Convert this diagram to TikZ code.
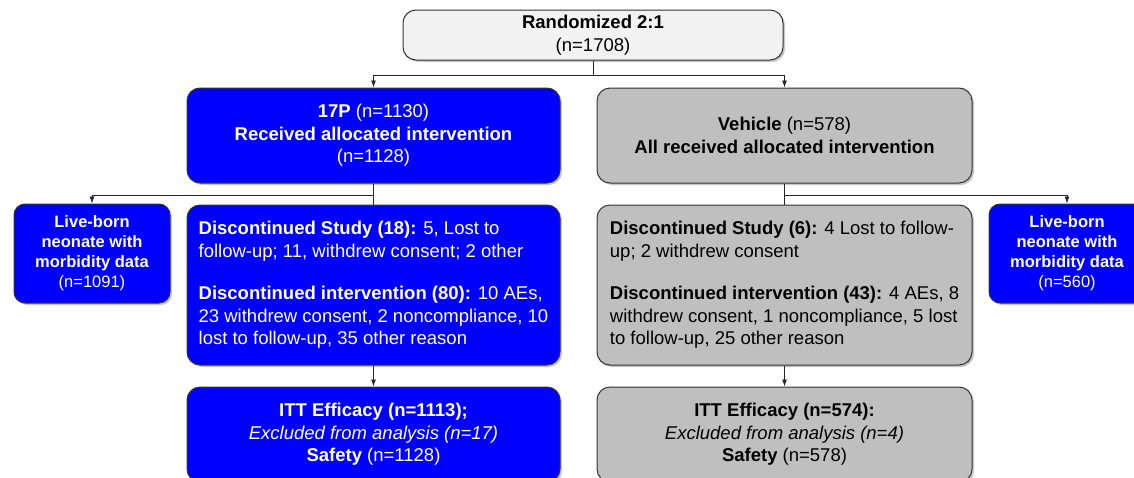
\documentclass[tikz,border=0pt]{standalone}
\usepackage{fontspec}
\setmainfont{Liberation Sans}
\usetikzlibrary{arrows.meta,shadows}

\begin{document}
\begin{tikzpicture}[x=1pt,y=-1pt,
    box/.style={draw=black!80, line width=1pt, rounded corners=13pt, inner sep=0pt,
        drop shadow={shadow xshift=2pt, shadow yshift=-2pt, opacity=0.45},
        align=center, font=\fontsize{18.5}{22.5}\selectfont},
    bluebox/.style={box, fill=blue, text=white},
    graybox/.style={box, fill=black!25},
    sidebox/.style={bluebox, rounded corners=11pt, minimum width=156pt, minimum height=99pt,
        font=\fontsize{16.5}{20}\selectfont\bfseries},
    arr/.style={-{Latex[length=7pt,width=5pt]}, line width=0.8pt, draw=black!85},
    ln/.style={line width=0.8pt, draw=black!85}]

    \useasboundingbox (0,0) rectangle (1134,477);
    \clip (0,0) rectangle (1134,477);

    % top row
    \node[box, fill=black!5, minimum width=380pt, minimum height=50pt] (rand) at (593,35)
        {\textbf{Randomized 2:1}\\(n=1708)};

    \node[bluebox, minimum width=373pt, minimum height=95pt] (p17) at (373.5,135.5)
        {\textbf{17P} (n=1130)\\\textbf{Received allocated intervention}\\(n=1128)};
    \node[graybox, minimum width=375pt, minimum height=95pt] (veh) at (784.5,135.5)
        {\textbf{Vehicle} (n=578)\\\textbf{All received allocated intervention}};

    % middle row
    \node[sidebox] (liveL) at (92,253.5) {Live-born\\neonate with\\morbidity data\\\mdseries(n=1091)};
    \node[sidebox] (liveR) at (1067,253.5) {Live-born\\neonate with\\morbidity data\\\mdseries(n=560)};

    \node[bluebox, minimum width=373pt, minimum height=160pt, align=left] (discL) at (373.5,285)
        {\textbf{Discontinued Study (18):} 5, Lost to\\
         follow-up; 11, withdrew consent; 2 other\\[20pt]
         \textbf{Discontinued intervention (80):} 10 AEs,\\
         23 withdrew consent, 2 noncompliance, 10\\
         lost to follow-up, 35 other reason};
    \node[graybox, minimum width=375pt, minimum height=160pt, align=left] (discR) at (784.5,285)
        {\textbf{Discontinued Study (6):} 4 Lost to follow-\\
         up; 2 withdrew consent\\[20pt]
         \textbf{Discontinued intervention (43):} 4 AEs, 8\\
         withdrew consent, 1 noncompliance, 5 lost\\
         to follow-up, 25 other reason};

    % bottom row
    \node[bluebox, minimum width=373pt, minimum height=95pt] (ittL) at (373.5,434.5)
        {\textbf{ITT Efficacy (n=1113);}\\\textit{Excluded from analysis (n=17)}\\\textbf{Safety} (n=1128)};
    \node[graybox, minimum width=375pt, minimum height=95pt] (ittR) at (784.5,434.5)
        {\textbf{ITT Efficacy (n=574):}\\\textit{Excluded from analysis (n=4)}\\\textbf{Safety} (n=578)};

    % connectors
    \coordinate (split) at (593,75);
    \coordinate (splitL) at (373.5,195);
    \coordinate (splitR) at (784.5,195);

    \draw[ln] (rand.south) -- (split);
    \draw[arr] (split) -| (p17.north);
    \draw[arr] (split) -| (veh.north);

    \draw[ln] (p17.south) -- (discL.north);
    \draw[arr] (splitL) -| (liveL.north);
    \draw[ln] (veh.south) -- (discR.north);
    \draw[arr] (splitR) -| (liveR.north);

    \draw[arr] (discL.south) -- (ittL.north);
    \draw[arr] (discR.south) -- (ittR.north);
\end{tikzpicture}
\end{document}
